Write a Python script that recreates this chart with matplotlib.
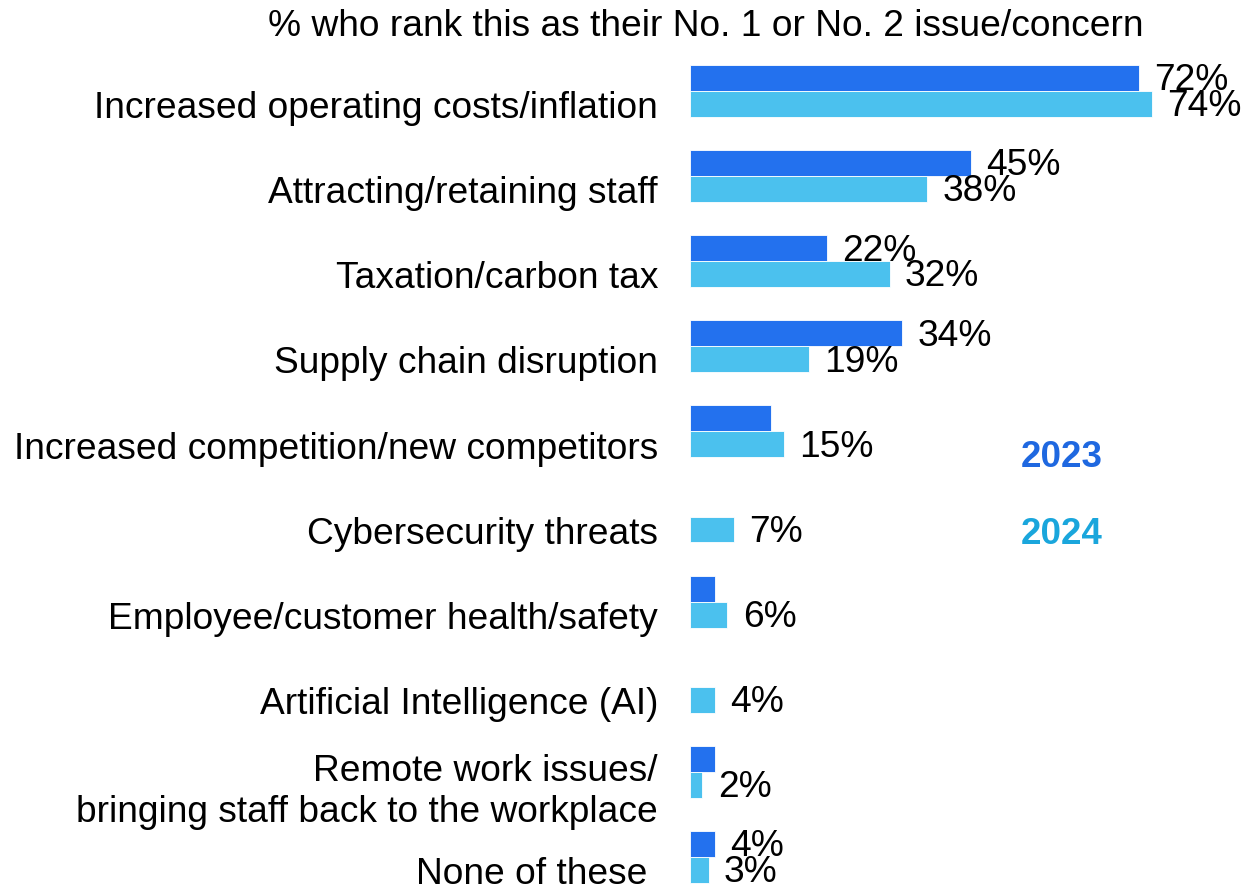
import matplotlib.pyplot as plt
import numpy as np

plt.rcParams['font.family'] = ['Liberation Sans', 'DejaVu Sans']

categories = [
    "Increased operating costs/inflation",
    "Attracting/retaining staff",
    "Taxation/carbon tax",
    "Supply chain disruption",
    "Increased competition/new competitors",
    "Cybersecurity threats",
    "Employee/customer health/safety",
    "Artificial Intelligence (AI)",
    "Remote work issues/\nbringing staff back to the workplace",
    "None of these ",
]
vals_2023 = [72, 45, 22, 34, 13, 0, 4, 0, 4, 4]
labels_2023 = ["72%", "45%", "22%", "34%", "", "", "", "", "", "4%"]
vals_2024 = [74, 38, 32, 19, 15, 7, 6, 4, 2, 3]
labels_2024 = ["74%", "38%", "32%", "19%", "15%", "7%", "6%", "4%", "2%", "3%"]

C23 = "#2371ee"
C24 = "#4bc1ee"
FS = 26.7

W, H = 1242, 888
fig = plt.figure(figsize=(W / 100, H / 100), dpi=100)
ax = fig.add_axes([690 / W, 0, 1 - 690 / W, 1])

y = np.arange(len(categories))
bh = 0.305
ax.barh(y - bh / 2, vals_2023, height=bh, color=C23, edgecolor="white", linewidth=0.6)
ax.barh(y + bh / 2, vals_2024, height=bh, color=C24, edgecolor="white", linewidth=0.6)

ax.set_xlim(0, (W - 690) / 6.24)
ax.set_ylim((H - 91) / 85.1, -91 / 85.1)

for yi, v, lab in zip(y, vals_2023, labels_2023):
    if lab:
        ax.annotate(lab, (v, yi - bh / 2), xytext=(11, -2), textcoords="offset points",
                    va="center", ha="left", fontsize=FS)
for yi, v, lab in zip(y, vals_2024, labels_2024):
    ax.annotate(lab, (v, yi + bh / 2), xytext=(11, -2), textcoords="offset points",
                va="center", ha="left", fontsize=FS)

ax.set_yticks(y + 0.16)
ax.set_yticklabels(categories, fontsize=FS, linespacing=1.22)
ax.tick_params(axis="y", length=0, pad=23)
ax.set_xticks([])
for s in ax.spines.values():
    s.set_visible(False)

fig.text(706 / W, 1 - 27 / H, "% who rank this as their No. 1 or No. 2 issue/concern",
         ha="center", va="center", fontsize=FS)
fig.text(1062 / W, 1 - 457 / H, "2023", ha="center", va="center", fontsize=26.5,
         fontweight="bold", color="#1f68e0")
fig.text(1062 / W, 1 - 534 / H, "2024", ha="center", va="center", fontsize=26.5,
         fontweight="bold", color="#1aa6dc")

fig.savefig("out.png", dpi=100)
